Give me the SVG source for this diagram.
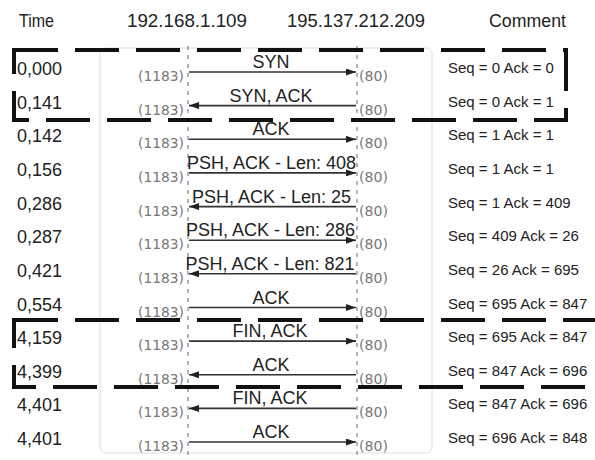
<svg xmlns="http://www.w3.org/2000/svg" width="595" height="460" viewBox="0 0 595 460">
<style>
.hdr{font-family:"Liberation Sans",Arial,sans-serif;font-size:18.5px;fill:#222}
.time{font-family:"Liberation Sans",Arial,sans-serif;font-size:18px;fill:#222}
.lbl{font-family:"Liberation Sans",Arial,sans-serif;font-size:18px;fill:#222;text-anchor:middle}
.port{font-family:"DejaVu Sans",Verdana,sans-serif;font-size:14px;fill:#777}
.cmt{font-family:"Liberation Sans",Arial,sans-serif;font-size:15px;fill:#222}
.life{stroke:#8a8a8a;stroke-width:1.3;stroke-dasharray:4 5;fill:none}
.msg{stroke:#333;stroke-width:1.6;fill:none;marker-end:url(#ah)}
.box{fill:none;stroke:#111;stroke-width:4;stroke-dasharray:44 17}
</style>
<defs>
<marker id="ah" markerUnits="userSpaceOnUse" markerWidth="11" markerHeight="7" refX="10" refY="3.5" orient="auto">
<path d="M0,0 L10,3.5 L0,7 z" fill="#222"/>
</marker>
</defs>
<rect width="595" height="460" fill="#fff"/>
<rect x="100" y="48" width="332" height="405" rx="6" fill="none" stroke="#dcdcdc" stroke-width="1"/>
<g id="header">
<text class="hdr" x="19" y="26.5" textLength="35" lengthAdjust="spacingAndGlyphs">Time</text>
<text class="hdr" x="127" y="26.7" textLength="120" lengthAdjust="spacingAndGlyphs">192.168.1.109</text>
<text class="hdr" x="287" y="26.7" textLength="138" lengthAdjust="spacingAndGlyphs">195.137.212.209</text>
<text class="hdr" x="489" y="26.5" textLength="77" lengthAdjust="spacingAndGlyphs">Comment</text>
</g>
<g id="host-192.168.1.109"><line class="life" x1="188" y1="46" x2="188" y2="460"/></g>
<g id="host-195.137.212.209"><line class="life" x1="357" y1="46" x2="357" y2="460"/></g>
<g id="times">
<text class="time" x="17" y="75">0,000</text>
<text class="time" x="17" y="108.6">0,141</text>
<text class="time" x="17" y="142.3">0,142</text>
<text class="time" x="17" y="175.9">0,156</text>
<text class="time" x="17" y="209.6">0,286</text>
<text class="time" x="17" y="243.2">0,287</text>
<text class="time" x="17" y="276.8">0,421</text>
<text class="time" x="17" y="310.5">0,554</text>
<text class="time" x="17" y="344.1">4,159</text>
<text class="time" x="17" y="377.8">4,399</text>
<text class="time" x="17" y="411.4">4,401</text>
<text class="time" x="17" y="445">4,401</text>
</g>
<g id="ports">
<text class="port" x="138" y="81" textLength="46" lengthAdjust="spacingAndGlyphs">(1183)</text>
<text class="port" x="138" y="114.6" textLength="46" lengthAdjust="spacingAndGlyphs">(1183)</text>
<text class="port" x="138" y="148.3" textLength="46" lengthAdjust="spacingAndGlyphs">(1183)</text>
<text class="port" x="138" y="181.9" textLength="46" lengthAdjust="spacingAndGlyphs">(1183)</text>
<text class="port" x="138" y="215.6" textLength="46" lengthAdjust="spacingAndGlyphs">(1183)</text>
<text class="port" x="138" y="249.2" textLength="46" lengthAdjust="spacingAndGlyphs">(1183)</text>
<text class="port" x="138" y="282.8" textLength="46" lengthAdjust="spacingAndGlyphs">(1183)</text>
<text class="port" x="138" y="316.5" textLength="46" lengthAdjust="spacingAndGlyphs">(1183)</text>
<text class="port" x="138" y="350.1" textLength="46" lengthAdjust="spacingAndGlyphs">(1183)</text>
<text class="port" x="138" y="383.8" textLength="46" lengthAdjust="spacingAndGlyphs">(1183)</text>
<text class="port" x="138" y="417.4" textLength="46" lengthAdjust="spacingAndGlyphs">(1183)</text>
<text class="port" x="138" y="451" textLength="46" lengthAdjust="spacingAndGlyphs">(1183)</text>
<text class="port" x="359" y="81" textLength="29" lengthAdjust="spacingAndGlyphs">(80)</text>
<text class="port" x="359" y="114.6" textLength="29" lengthAdjust="spacingAndGlyphs">(80)</text>
<text class="port" x="359" y="148.3" textLength="29" lengthAdjust="spacingAndGlyphs">(80)</text>
<text class="port" x="359" y="181.9" textLength="29" lengthAdjust="spacingAndGlyphs">(80)</text>
<text class="port" x="359" y="215.6" textLength="29" lengthAdjust="spacingAndGlyphs">(80)</text>
<text class="port" x="359" y="249.2" textLength="29" lengthAdjust="spacingAndGlyphs">(80)</text>
<text class="port" x="359" y="282.8" textLength="29" lengthAdjust="spacingAndGlyphs">(80)</text>
<text class="port" x="359" y="316.5" textLength="29" lengthAdjust="spacingAndGlyphs">(80)</text>
<text class="port" x="359" y="350.1" textLength="29" lengthAdjust="spacingAndGlyphs">(80)</text>
<text class="port" x="359" y="383.8" textLength="29" lengthAdjust="spacingAndGlyphs">(80)</text>
<text class="port" x="359" y="417.4" textLength="29" lengthAdjust="spacingAndGlyphs">(80)</text>
<text class="port" x="359" y="451" textLength="29" lengthAdjust="spacingAndGlyphs">(80)</text>
</g>
<g id="connectors">
<line class="msg" x1="189" y1="72" x2="356" y2="72"/>
<line class="msg" x1="356" y1="105.6" x2="189" y2="105.6"/>
<line class="msg" x1="189" y1="139.3" x2="356" y2="139.3"/>
<line class="msg" x1="189" y1="172.9" x2="356" y2="172.9"/>
<line class="msg" x1="356" y1="206.6" x2="189" y2="206.6"/>
<line class="msg" x1="189" y1="240.2" x2="356" y2="240.2"/>
<line class="msg" x1="356" y1="273.8" x2="189" y2="273.8"/>
<line class="msg" x1="189" y1="307.5" x2="356" y2="307.5"/>
<line class="msg" x1="189" y1="341.1" x2="356" y2="341.1"/>
<line class="msg" x1="356" y1="374.8" x2="189" y2="374.8"/>
<line class="msg" x1="356" y1="408.4" x2="189" y2="408.4"/>
<line class="msg" x1="189" y1="442" x2="356" y2="442"/>
</g>
<g id="labels">
<text class="lbl" x="271" y="68">SYN</text>
<text class="lbl" x="271" y="101.6">SYN, ACK</text>
<text class="lbl" x="271" y="135.3">ACK</text>
<text class="lbl" x="271.5" y="168.9">PSH, ACK - Len: 408</text>
<text class="lbl" x="271.5" y="202.6">PSH, ACK - Len: 25</text>
<text class="lbl" x="270.5" y="236.2">PSH, ACK - Len: 286</text>
<text class="lbl" x="270" y="269.8">PSH, ACK - Len: 821</text>
<text class="lbl" x="271" y="303.5">ACK</text>
<text class="lbl" x="270" y="337.1">FIN, ACK</text>
<text class="lbl" x="271" y="370.8">ACK</text>
<text class="lbl" x="270" y="404.4">FIN, ACK</text>
<text class="lbl" x="271" y="438">ACK</text>
</g>
<g id="comments">
<text class="cmt" x="448" y="73">Seq = 0 Ack = 0</text>
<text class="cmt" x="448" y="106.6">Seq = 0 Ack = 1</text>
<text class="cmt" x="448" y="140.3">Seq = 1 Ack = 1</text>
<text class="cmt" x="448" y="173.9">Seq = 1 Ack = 1</text>
<text class="cmt" x="448" y="207.6">Seq = 1 Ack = 409</text>
<text class="cmt" x="448" y="241.2">Seq = 409 Ack = 26</text>
<text class="cmt" x="448" y="274.8">Seq = 26 Ack = 695</text>
<text class="cmt" x="448" y="308.5">Seq = 695 Ack = 847</text>
<text class="cmt" x="448" y="342.1">Seq = 695 Ack = 847</text>
<text class="cmt" x="448" y="375.8">Seq = 847 Ack = 696</text>
<text class="cmt" x="448" y="409.4">Seq = 847 Ack = 696</text>
<text class="cmt" x="448" y="443">Seq = 696 Ack = 848</text>
</g>
<g id="handshake-box"><rect class="box" x="14" y="50" width="552" height="70"/></g>
<g id="teardown-box"><rect class="box" x="14" y="320" width="618" height="67"/></g>
</svg>
